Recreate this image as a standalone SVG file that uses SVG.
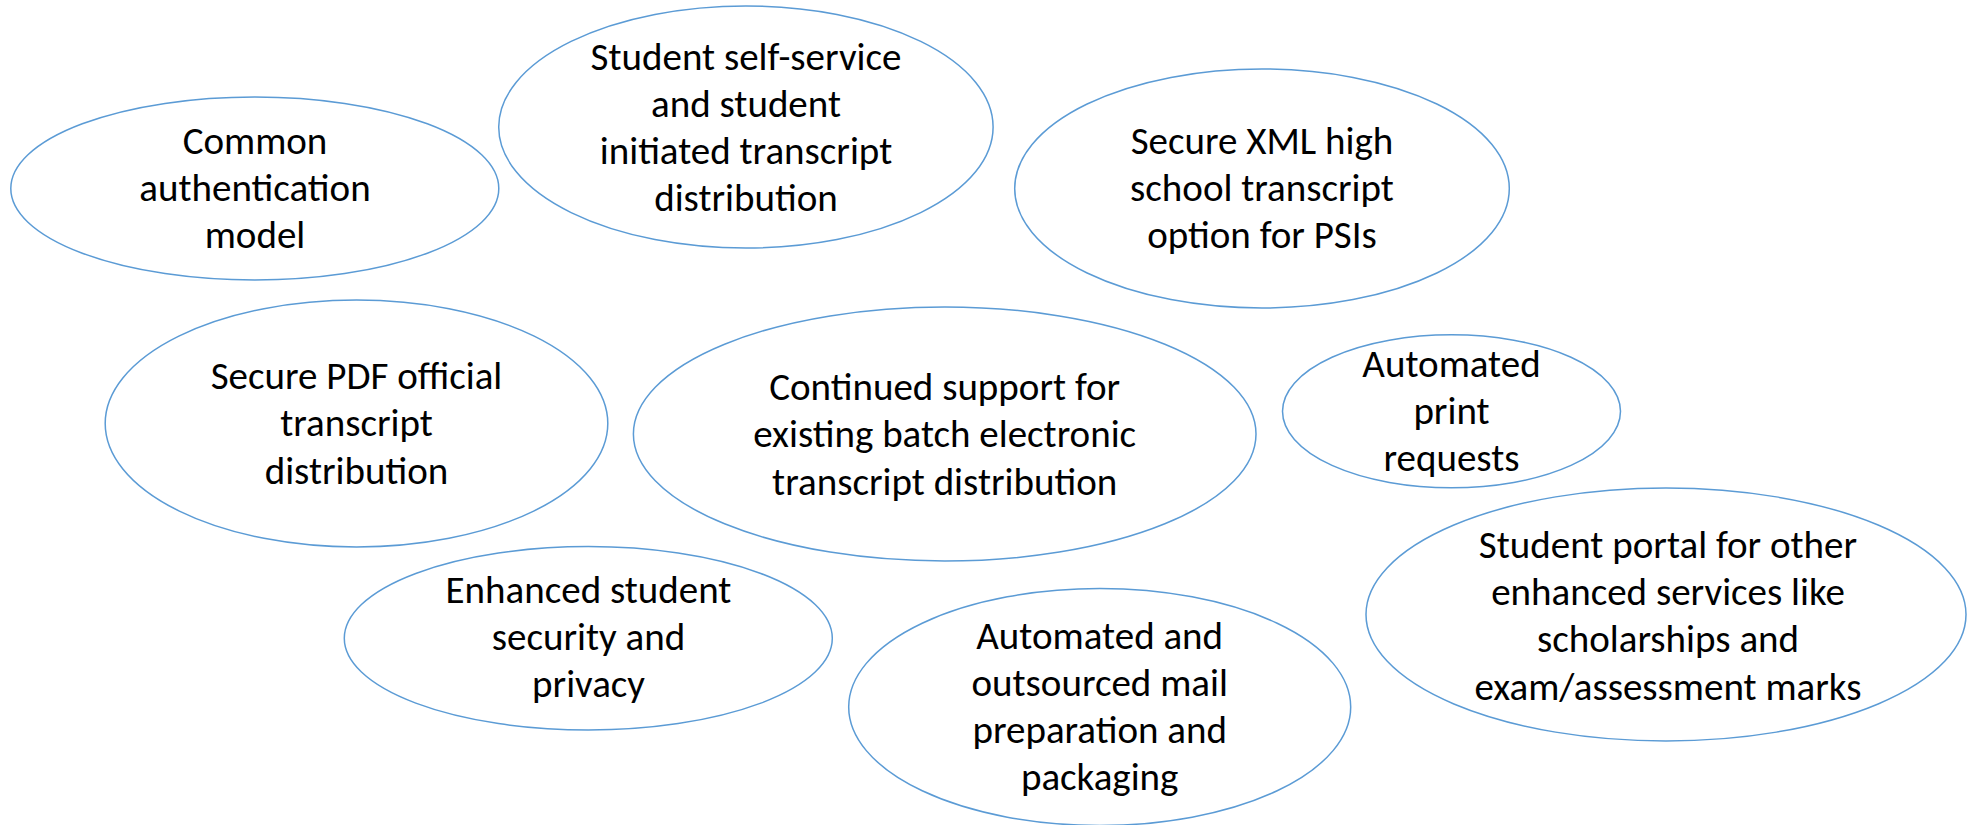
<svg xmlns="http://www.w3.org/2000/svg" width="1967" height="825" viewBox="0 0 1967 825">
<style>
.n ellipse{fill:#fff;stroke:#5B9BD5;stroke-width:1.5}
.n text{font-family:Carlito,Lato,"Liberation Sans",sans-serif;font-size:39px;fill:#000;text-anchor:middle}
</style>
<rect width="1967" height="825" fill="#fff"/>
<g id="connectors"/>
<g id="n1" class="n"><ellipse cx="254.8" cy="188.5" rx="244" ry="91.5"/>
<text x="255" y="154">Common</text><text x="255" y="201">authentication</text><text x="255" y="248">model</text></g>
<g id="n2" class="n"><ellipse cx="745.9" cy="127" rx="247.2" ry="121"/>
<text x="746" y="70">Student self-service</text><text x="746" y="117">and student</text><text x="746" y="164">initiated transcript</text><text x="746" y="211">distribution</text></g>
<g id="n3" class="n"><ellipse cx="1262" cy="188.5" rx="247.3" ry="119.5"/>
<text x="1262" y="154">Secure XML high</text><text x="1262" y="201">school transcript</text><text x="1262" y="248">option for PSIs</text></g>
<g id="n4" class="n"><ellipse cx="356.5" cy="423.5" rx="251.3" ry="123.5"/>
<text x="356.5" y="389">Secure PDF official</text><text x="356.5" y="436">transcript</text><text x="356.5" y="484">distribution</text></g>
<g id="n5" class="n"><ellipse cx="944.7" cy="434" rx="311.3" ry="127"/>
<text x="944.7" y="400">Continued support for</text><text x="944.7" y="447">existing batch electronic</text><text x="944.7" y="495">transcript distribution</text></g>
<g id="n6" class="n"><ellipse cx="1451.5" cy="411.3" rx="169" ry="76.5"/>
<text x="1451.5" y="377">Automated</text><text x="1451.5" y="424">print</text><text x="1451.5" y="471">requests</text></g>
<g id="n7" class="n"><ellipse cx="588.3" cy="638.3" rx="244" ry="91.7"/>
<text x="588.5" y="603">Enhanced student</text><text x="588.5" y="650">security and</text><text x="588.5" y="697">privacy</text></g>
<g id="n8" class="n"><ellipse cx="1099.7" cy="707" rx="251" ry="118.5"/>
<text x="1099.7" y="649">Automated and</text><text x="1099.7" y="696">outsourced mail</text><text x="1099.7" y="743">preparation and</text><text x="1099.7" y="790">packaging</text></g>
<g id="n9" class="n"><ellipse cx="1666" cy="614.5" rx="300" ry="126.5"/>
<text x="1668" y="558">Student portal for other</text><text x="1668" y="605">enhanced services like</text><text x="1668" y="652">scholarships and</text><text x="1668" y="700">exam/assessment marks</text></g>
</svg>
